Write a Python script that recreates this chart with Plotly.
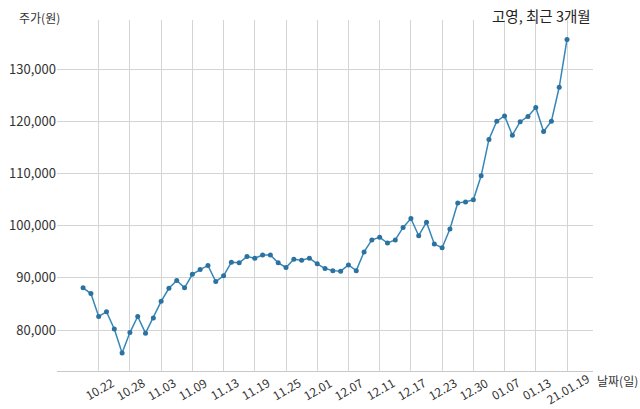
import plotly.graph_objects as go

dates = [
    "10.20", "10.21", "10.22", "10.23", "10.26", "10.27", "10.28", "10.29", "10.30",
    "11.02", "11.03", "11.04", "11.05", "11.06", "11.09", "11.10", "11.11", "11.12", "11.13",
    "11.16", "11.17", "11.18", "11.19", "11.20", "11.23", "11.24", "11.25", "11.26", "11.27", "11.30",
    "12.01", "12.02", "12.03", "12.04", "12.07", "12.08", "12.09", "12.10", "12.11",
    "12.14", "12.15", "12.16", "12.17", "12.18", "12.21", "12.22", "12.23", "12.24",
    "12.28", "12.29", "12.30",
    "01.04", "01.05", "01.06", "01.07", "01.08", "01.11", "01.12", "01.13", "01.14", "01.15",
    "01.18", "01.19",
]
prices = [
    88100, 87000, 82600, 83500, 80200, 75600, 79500, 82600, 79400, 82300,
    85500, 88000, 89500, 88100, 90700, 91600, 92400, 89300, 90400, 93000,
    92900, 94100, 93800, 94400, 94400, 92900, 92000, 93600, 93400, 93800,
    92700, 91800, 91400, 91300, 92500, 91400, 95000, 97300, 97800, 96700,
    97300, 99700, 101400, 98100, 100700, 96500, 95800, 99400, 104400, 104600,
    105000, 109600, 116600, 120100, 121100, 117400, 120000, 121000, 122700, 118100,
    120100, 126600, 135800,
]
tick_dates = ["10.22", "10.28", "11.03", "11.09", "11.13", "11.19", "11.25", "12.01",
              "12.07", "12.11", "12.17", "12.23", "12.30", "01.07", "01.13", "01.19"]
tick_text = ["10.22", "10.28", "11.03", "11.09", "11.13", "11.19", "11.25", "12.01",
             "12.07", "12.11", "12.17", "12.23", "12.30", "01.07", "01.13", "21.01.19"]

title_text = "고영, 최근 3개월"
y_title = "주가(원)"
x_title = "날짜(일)"

FONT = "Noto Sans CJK KR"
TXT = "#333333"
GRID = "#d4d4d4"

pos = list(range(len(dates)))
tick_pos = [dates.index(d) for d in tick_dates]

fig = go.Figure()
fig.add_trace(go.Scatter(
    x=pos, y=prices, mode="lines+markers",
    customdata=dates,
    line=dict(color="#3587b8", width=1.5),
    marker=dict(color="#2c72a0", size=5),
    hovertemplate="%{customdata}: %{y:,}<extra></extra>",
))

annotations = []
for p, t in zip(tick_pos, tick_text):
    annotations.append(dict(
        x=p, xref="x", y=0, yref="paper", text=t, showarrow=False,
        textangle=-30, xanchor="center", yanchor="middle", yshift=-17,
        font=dict(family=FONT, size=12, color=TXT),
    ))
annotations.append(dict(
    x=1, xref="paper", y=1, yref="paper", text=title_text, showarrow=False,
    xanchor="right", yanchor="bottom", yshift=-8,
    font=dict(family=FONT, size=14.5, color="#222222"),
))
annotations.append(dict(
    x=-0.032, xref="paper", y=1, yref="paper", text=y_title, showarrow=False,
    xanchor="center", yanchor="bottom", yshift=-8,
    font=dict(family=FONT, size=12, color=TXT),
))
annotations.append(dict(
    x=1, xref="paper", y=0, yref="paper", text=x_title, showarrow=False,
    xanchor="left", yanchor="top", xshift=2, yshift=1,
    font=dict(family=FONT, size=12, color=TXT),
))

fig.update_layout(
    width=640, height=409,
    margin=dict(l=57, r=47, t=20, b=38, autoexpand=False),
    paper_bgcolor="white", plot_bgcolor="white",
    showlegend=False,
    annotations=annotations,
    font=dict(family=FONT, size=13, color=TXT),
)
fig.update_xaxes(
    range=[-3.34, 65.33], automargin=False,
    tickmode="array", tickvals=tick_pos, showticklabels=False,
    showgrid=True, gridcolor=GRID, gridwidth=1,
    showline=True, linecolor="#c8c8c8", linewidth=1,
    ticks="", zeroline=False,
)
fig.update_yaxes(
    range=[72128, 139520], dtick=10000, tick0=0, tickformat=",",
    automargin=False,
    showgrid=True, gridcolor=GRID, gridwidth=1,
    showline=False, ticks="", zeroline=False,
    tickfont=dict(family=FONT, size=13, color=TXT),
)

fig.write_html(
    "out.html",
    config={"displayModeBar": False},
    post_script="document.body.style.margin='0';document.body.style.overflow='hidden';",
)
